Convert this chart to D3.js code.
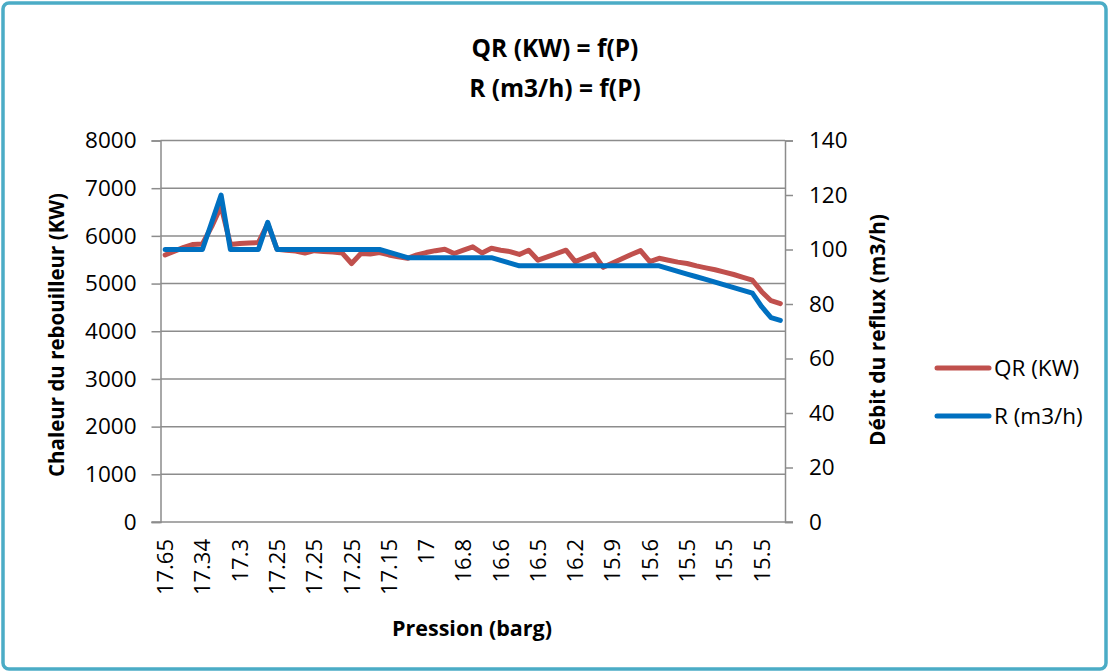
<!DOCTYPE html>
<html>
<head>
<meta charset="utf-8">
<script src="https://cdn.jsdelivr.net/npm/d3@7"></script>
<style>
  html, body { margin: 0; padding: 0; background: #fff; }
  svg { display: block; font-family: "Open Sans", "Liberation Sans", sans-serif; }
</style>
</head>
<body>
<svg id="chart" width="1109" height="672"></svg>
<script>
// Pression (barg) categories (only every 4th is shown on the axis)
const pressures = [
  17.65, 17.6, 17.5, 17.4, 17.34, 17.33, 17.32, 17.31, 17.3, 17.3,
  17.28, 17.27, 17.25, 17.25, 17.25, 17.25, 17.25, 17.25, 17.25, 17.25,
  17.25, 17.2, 17.2, 17.2, 17.15, 17.1, 17.05, 17, 17, 16.95,
  16.9, 16.85, 16.8, 16.75, 16.7, 16.65, 16.6, 16.6, 16.55, 16.5,
  16.5, 16.4, 16.3, 16.25, 16.2, 16.1, 16, 15.95, 15.9, 15.8,
  15.7, 15.65, 15.6, 15.6, 15.55, 15.5, 15.5, 15.5, 15.5, 15.5,
  15.5, 15.5, 15.5, 15.5, 15.5, 15.5, 15.5
];
// QR (KW) - left axis
const qrValues = [
  5600, 5680, 5760, 5820, 5830, 6200, 6620, 5820, 5840, 5850,
  5860, 6250, 5720, 5700, 5680, 5640, 5690, 5670, 5660, 5640,
  5420, 5630, 5620, 5650, 5600, 5560, 5530, 5600, 5650, 5690,
  5720, 5630, 5700, 5770, 5640, 5740, 5700, 5670, 5610, 5700,
  5490, 5560, 5630, 5700, 5460, 5540, 5620, 5340, 5430, 5520,
  5610, 5690, 5460, 5530, 5490, 5450, 5420, 5370, 5330, 5290,
  5240, 5190, 5130, 5070, 4830, 4640, 4580
];
// R (m3/h) - right axis
const rValues = [
  100, 100, 100, 100, 100, 110, 120, 100, 100, 100,
  100, 110, 100, 100, 100, 100, 100, 100, 100, 100,
  100, 100, 100, 100, 99, 98, 97, 97, 97, 97,
  97, 97, 97, 97, 97, 97, 96, 95, 94, 94,
  94, 94, 94, 94, 94, 94, 94, 94, 94, 94,
  94, 94, 94, 94, 93, 92, 91, 90, 89, 88,
  87, 86, 85, 84, 79, 75, 74
];
const leftTicks = [0, 1000, 2000, 3000, 4000, 5000, 6000, 7000, 8000];
const rightTicks = [0, 20, 40, 60, 80, 100, 120, 140];
const labelEvery = 4;

const svg = d3.select("#chart");
const W = 1109, H = 672;
const plot = { left: 160.5, right: 785, top: 140.5, bottom: 522 };
const gridColor = "#8c8c8c";
const redColor = "#C0504D";
const blueColor = "#0070C0";

// border
svg.append("rect")
  .attr("x", 3).attr("y", 3).attr("width", W - 6).attr("height", H - 6)
  .attr("rx", 6).attr("fill", "#fff")
  .attr("stroke", "#4BACC6").attr("stroke-width", 3.5);

const idx = d3.range(pressures.length);
const x = d3.scaleBand().domain(idx).range([plot.left, plot.right]);
const xc = i => x(i) + x.bandwidth() / 2;
const yL = d3.scaleLinear().domain([0, 8000]).range([plot.bottom, plot.top]);
const yR = d3.scaleLinear().domain([0, 140]).range([plot.bottom, plot.top]);

// gridlines
svg.append("g").selectAll("line").data(leftTicks.filter(d => d > 0)).join("line")
  .attr("x1", plot.left).attr("x2", plot.right)
  .attr("y1", d => yL(d)).attr("y2", d => yL(d))
  .attr("stroke", gridColor).attr("stroke-width", 1.5);

// left axis
const gL = svg.append("g").attr("transform", `translate(${plot.left},0)`)
  .call(d3.axisLeft(yL).tickValues(leftTicks).tickSize(9).tickPadding(15).tickFormat(d3.format("d")));
// right axis
const gR = svg.append("g").attr("transform", `translate(${plot.right},0)`)
  .call(d3.axisRight(yR).tickValues(rightTicks).tickSize(8).tickPadding(16).tickFormat(d3.format("d")));
[gL, gR].forEach(g => {
  g.select(".domain").attr("stroke", gridColor).attr("stroke-width", 1.5);
  g.selectAll(".tick line").attr("stroke", gridColor).attr("stroke-width", 1.5);
  g.selectAll(".tick text").attr("fill", "#000").style("font-size", "22.5px")
    .style("font-family", "'Open Sans', sans-serif");
});

// bottom axis
const gX = svg.append("g").attr("transform", `translate(0,${plot.bottom})`)
  .call(d3.axisBottom(x).tickValues(idx.filter(i => i % labelEvery === 0))
    .tickSize(0).tickFormat(i => String(pressures[i])));
gX.select(".domain").attr("stroke", gridColor).attr("stroke-width", 1.5)
  .attr("d", `M${plot.left - 9},0H${plot.right + 8}`);
gX.selectAll(".tick text")
  .attr("fill", "#000").style("font-size", "22px")
  .style("font-family", "'Open Sans', sans-serif")
  .attr("text-anchor", "end")
  .attr("transform", "translate(0,17) rotate(-90)")
  .attr("x", 0).attr("y", 0).attr("dy", "0.36em");

// lines
const lineL = d3.line().x((d, i) => xc(i)).y(d => yL(d));
const lineR = d3.line().x((d, i) => xc(i)).y(d => yR(d));
svg.append("path").datum(qrValues).attr("d", lineL)
  .attr("fill", "none").attr("stroke", redColor).attr("stroke-width", 5)
  .attr("stroke-linejoin", "round").attr("stroke-linecap", "round");
svg.append("path").datum(rValues).attr("d", lineR)
  .attr("fill", "none").attr("stroke", blueColor).attr("stroke-width", 5)
  .attr("stroke-linejoin", "round").attr("stroke-linecap", "round");

// titles
const title = svg.append("text").attr("text-anchor", "middle")
  .style("font-size", "24.5px").style("font-weight", "bold");
title.append("tspan").attr("x", 555).attr("y", 57).text("QR (KW) = f(P)");
title.append("tspan").attr("x", 555).attr("y", 97).text("R (m3/h) = f(P)");

svg.append("text").attr("text-anchor", "middle")
  .attr("transform", "translate(57,335) rotate(-90)").attr("dy", "0.36em")
  .style("font-size", "20.5px").style("font-weight", "bold")
  .text("Chaleur du rebouilleur (KW)");
svg.append("text").attr("text-anchor", "middle")
  .attr("transform", "translate(877,330) rotate(-90)").attr("dy", "0.36em")
  .style("font-size", "21px").style("font-weight", "bold")
  .text("Débit du reflux (m3/h)");
svg.append("text").attr("text-anchor", "middle")
  .attr("x", 472).attr("y", 636)
  .style("font-size", "21.5px").style("font-weight", "bold")
  .text("Pression (barg)");

// legend
const legend = [
  { name: "QR (KW)", color: redColor, y: 368 },
  { name: "R (m3/h)", color: blueColor, y: 416 }
];
const lg = svg.append("g");
lg.selectAll("line").data(legend).join("line")
  .attr("x1", 937).attr("x2", 989).attr("y1", d => d.y).attr("y2", d => d.y)
  .attr("stroke", d => d.color).attr("stroke-width", 5).attr("stroke-linecap", "round");
lg.selectAll("text").data(legend).join("text")
  .attr("x", 994).attr("y", d => d.y).attr("dy", "0.36em")
  .style("font-size", "22.5px").text(d => d.name);
</script>
</body>
</html>
